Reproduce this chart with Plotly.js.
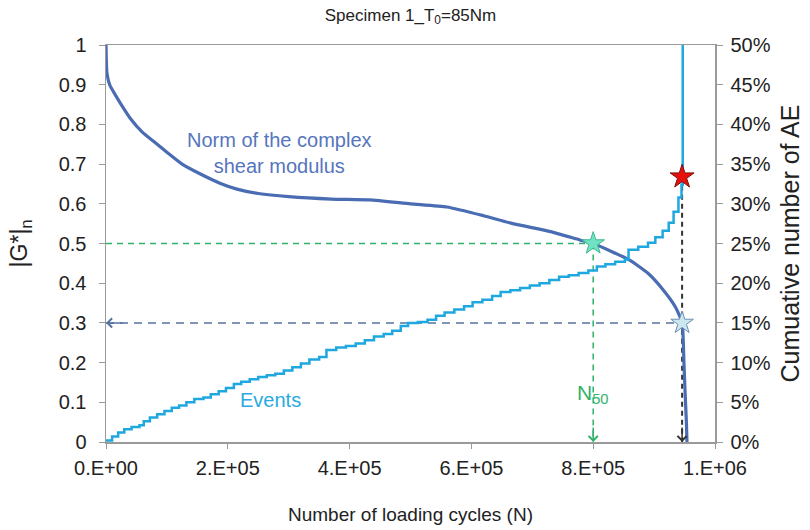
<!DOCTYPE html>
<html>
<head>
<meta charset="utf-8">
<script src="https://cdn.plot.ly/plotly-3.0.1.min.js"></script>
<style>html,body{margin:0;padding:0;background:#fff;}</style>
</head>
<body>
<div id="chart" style="width:810px;height:530px;"></div>
<script>
// Norm of the complex shear modulus |G*|n vs number of cycles
const modCycles = [0, 1500, 6000, 15000, 25000, 40000, 60000, 80000, 100000, 125000, 155000, 187000, 215000, 250000, 300000, 370000, 433000, 500000, 560000, 620000, 668000, 730000, 778000, 800000, 830000, 860000, 890000, 915000, 935000, 946000, 949000, 951000, 953000, 954000];
const modValues = [1.0, 0.93, 0.90, 0.875, 0.85, 0.815, 0.78, 0.755, 0.73, 0.70, 0.675, 0.652, 0.637, 0.626, 0.618, 0.612, 0.61, 0.60, 0.592, 0.57, 0.55, 0.53, 0.509, 0.50, 0.48, 0.458, 0.425, 0.383, 0.34, 0.30, 0.20, 0.12, 0.05, 0.0];

// Cumulative number of AE events (fraction) vs number of cycles
const evCycles = [0, 10000, 20000, 30000, 42000, 55000, 62000, 72000, 84000, 96000, 108000, 120000, 132000, 145000, 160000, 172000, 185000, 197000, 210000, 222000, 236000, 250000, 264000, 278000, 292000, 306000, 320000, 334000, 350000, 362000, 378000, 394000, 410000, 425000, 440000, 456000, 470000, 484000, 496000, 512000, 528000, 542000, 556000, 572000, 588000, 602000, 618000, 634000, 648000, 664000, 680000, 696000, 712000, 728000, 744000, 760000, 776000, 792000, 806000, 820000, 836000, 852000, 858000, 874000, 890000, 902000, 914000, 924000, 932000, 940000, 945000, 947000, 947000];
const evValues = [0.002, 0.007, 0.012, 0.016, 0.019, 0.021, 0.026, 0.031, 0.035, 0.039, 0.043, 0.046, 0.050, 0.054, 0.056, 0.060, 0.064, 0.068, 0.073, 0.076, 0.079, 0.082, 0.084, 0.086, 0.090, 0.094, 0.099, 0.104, 0.107, 0.116, 0.119, 0.121, 0.124, 0.128, 0.133, 0.136, 0.140, 0.146, 0.150, 0.151, 0.154, 0.159, 0.163, 0.167, 0.171, 0.176, 0.179, 0.184, 0.189, 0.191, 0.194, 0.197, 0.200, 0.204, 0.208, 0.210, 0.213, 0.216, 0.221, 0.224, 0.227, 0.230, 0.242, 0.246, 0.251, 0.258, 0.266, 0.276, 0.290, 0.308, 0.324, 0.334, 0.60];

// Key points
const n50Cycles = 800000, n50Mod = 0.5;
const failCycles = 946000, failMod = 0.3, failEvents = 0.334;

const xTickVals = [0, 200000, 400000, 600000, 800000, 1000000];
const xTickText = ['0.E+00', '2.E+05', '4.E+05', '6.E+05', '8.E+05', '1.E+06'];

const FONT = 'Liberation Sans, Arial, sans-serif';
const cMod = '#4A6CB3';
const cEv = '#1FA8E0';
const cGreen = '#2FB26A';
const cBlueDash = '#5671A3';
const cBlack = '#333333';
const cAxis = '#9a9a9a';

const traces = [
  {x: [0, n50Cycles], y: [n50Mod, n50Mod], mode: 'lines', line: {color: cGreen, width: 1.5, dash: '6px,5px'}, hoverinfo: 'skip'},
  {x: [n50Cycles, n50Cycles], y: [n50Mod, 0], mode: 'lines', line: {color: cGreen, width: 1.5, dash: '6px,5px'}, hoverinfo: 'skip'},
  {x: [0, failCycles], y: [failMod, failMod], mode: 'lines', line: {color: cBlueDash, width: 1.5, dash: '8px,6px'}, hoverinfo: 'skip'},
  {x: [failCycles, failCycles], y: [failEvents * 2, 0], mode: 'lines', line: {color: cBlack, width: 2, dash: '5px,4px'}, hoverinfo: 'skip'},
  {x: modCycles, y: modValues, mode: 'lines', name: 'Norm of the complex shear modulus', line: {color: cMod, width: 3.2, shape: 'spline', smoothing: 0.5}},
  {x: evCycles, y: evValues, yaxis: 'y2', mode: 'lines', name: 'Events', line: {color: cEv, width: 2.5, shape: 'hv'}},
  {x: [n50Cycles], y: [n50Mod], mode: 'markers', marker: {symbol: 'star', size: 17, color: '#6FE3C4', line: {color: '#3CB88F', width: 1}}, hoverinfo: 'skip'},
  {x: [failCycles], y: [failMod], mode: 'markers', marker: {symbol: 'star', size: 17, color: '#CDE7EE', line: {color: '#6E8FB5', width: 1}}, hoverinfo: 'skip'},
  {x: [failCycles], y: [failEvents], yaxis: 'y2', mode: 'markers', marker: {symbol: 'star', size: 18, color: '#E8100C', line: {color: '#7A1010', width: 1}}, hoverinfo: 'skip'}
];

const tickFont = {family: FONT, size: 20, color: '#222'};

const layout = {
  width: 810, height: 530,
  margin: {l: 106, r: 95, t: 45, b: 88},
  paper_bgcolor: '#ffffff', plot_bgcolor: '#ffffff',
  showlegend: false,
  font: {family: FONT, color: '#222', size: 16},
  title: {text: 'Specimen 1_T<sub>0</sub>=85Nm', x: 0.5, xref: 'paper', y: 0.972, yanchor: 'middle', font: {family: FONT, size: 17, color: '#222'}},
  xaxis: {
    range: [0, 1000000], tickvals: xTickVals, ticktext: xTickText,
    showgrid: false, zeroline: false, showline: true, linecolor: cAxis, linewidth: 1.5, mirror: true,
    ticks: 'outside', ticklen: 5, tickcolor: cAxis, tickfont: tickFont, ticklabelstandoff: 2,
    title: {text: 'Number of loading cycles (N)', standoff: 30, font: {size: 19, color: '#222'}}
  },
  yaxis: {
    range: [0, 1], dtick: 0.1, tick0: 0,
    showgrid: false, zeroline: false, showline: true, linecolor: cAxis, linewidth: 1.5,
    ticks: 'outside', ticklen: 6, tickcolor: cAxis, tickfont: tickFont, ticklabelstandoff: 8,
    title: {text: '|G*|<sub>n</sub>', standoff: 24, font: {size: 23, color: '#222'}}
  },
  yaxis2: {
    range: [0, 0.5], dtick: 0.05, tick0: 0, tickformat: '.0%', overlaying: 'y', side: 'right',
    showgrid: false, zeroline: false, showline: true, linecolor: cAxis, linewidth: 1.5,
    ticks: 'outside', ticklen: 6, tickcolor: cAxis, tickfont: tickFont, ticklabelstandoff: 4,
    title: {text: 'Cumuative number of AE', standoff: 12, font: {size: 25, color: '#222'}}
  },
  annotations: [
    {x: 285000, y: 0.728, xref: 'x', yref: 'y', xanchor: 'center', yanchor: 'middle', text: 'Norm of the complex<br>shear modulus', showarrow: false, font: {size: 20, color: '#5675BD'}, align: 'center'},
    {x: 270000, y: 0.105, xref: 'x', yref: 'y', xanchor: 'center', yanchor: 'middle', text: 'Events', showarrow: false, font: {size: 20, color: '#2AAAE0'}},
    {x: n50Cycles, y: 0.122, xref: 'x', yref: 'y', xanchor: 'center', yanchor: 'middle', text: 'N<sub>50</sub>', showarrow: false, font: {size: 21, color: cGreen}},
    {x: 0, y: failMod, ax: 30000, ay: failMod, xref: 'x', yref: 'y', axref: 'x', ayref: 'y', text: '', showarrow: true, arrowhead: 4, arrowsize: 1.2, arrowwidth: 1.5, arrowcolor: cBlueDash},
    {x: n50Cycles, y: 0, ax: n50Cycles, ay: 0.04, xref: 'x', yref: 'y', axref: 'x', ayref: 'y', text: '', showarrow: true, arrowhead: 4, arrowsize: 1.2, arrowwidth: 1.5, arrowcolor: cGreen},
    {x: failCycles, y: 0, ax: failCycles, ay: 0.04, xref: 'x', yref: 'y', axref: 'x', ayref: 'y', text: '', showarrow: true, arrowhead: 4, arrowsize: 1.2, arrowwidth: 1.5, arrowcolor: cBlack}
  ]
};

Plotly.newPlot('chart', traces, layout, {displayModeBar: false, staticPlot: true});
</script>
</body>
</html>
